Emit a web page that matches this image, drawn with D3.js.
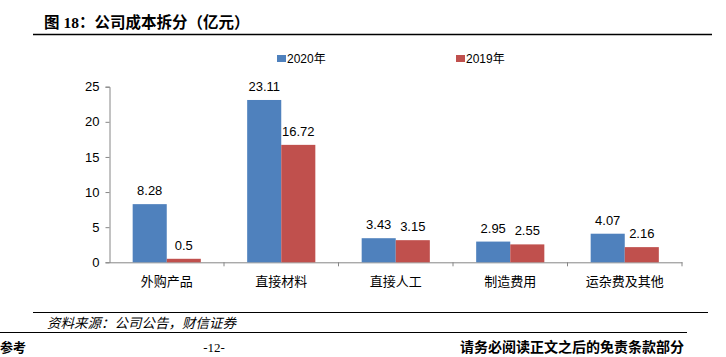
<!DOCTYPE html>
<html><head><meta charset="utf-8">
<script src="https://cdn.jsdelivr.net/npm/d3@7"></script>
<style>
html,body{margin:0;padding:0;background:#fff;}
svg{display:block;}
</style></head>
<body>
<svg id="c" width="726" height="357"></svg>
<script>
const categories = ["外购产品","直接材料","直接人工","制造费用","运杂费及其他"];
const series2020 = [8.28, 23.11, 3.43, 2.95, 4.07];
const series2019 = [0.5, 16.72, 3.15, 2.55, 2.16];
const seriesNames = ["2020年","2019年"];
const yTicks = [0,5,10,15,20,25];
const titleText = "图 18：公司成本拆分（亿元）";
const sourceText = "资料来源：公司公告，财信证券";
const footerLeft = "参考";
const footerMid = "-12-";
const footerRight = "请务必阅读正文之后的免责条款部分";
const colors = ["#4F81BD","#C0504D"];

const svg = d3.select("#c");
const cjk = "'Noto Sans CJK SC', sans-serif";
const latin = "'Liberation Sans', Arial, 'Noto Sans CJK SC', sans-serif";

// Title
svg.append("text").attr("x",44).attr("y",28)
  .attr("font-size",15.5).attr("font-weight","bold").attr("fill","#000")
  .attr("font-family","'Liberation Serif', 'Noto Sans CJK SC', serif")
  .text(titleText);
svg.append("line").attr("x1",33).attr("x2",712).attr("y1",34.5).attr("y2",34.5)
  .attr("stroke","#000").attr("stroke-width",1.5);

// Scales
const x0 = d3.scaleBand().domain(categories).range([109.5,682]).paddingInner(0).paddingOuter(0);
const x1 = d3.scaleBand().domain(seriesNames).range([0,x0.bandwidth()]).paddingInner(0).paddingOuter(0.68);
const y = d3.scaleLinear().domain([0,25]).range([262.3,86.7]);

// Y axis
const yAxis = svg.append("g").attr("transform","translate(109.5,0)")
  .call(d3.axisLeft(y).tickValues(yTicks).tickSize(4).tickPadding(6));
yAxis.select(".domain").attr("stroke","#868686");
yAxis.selectAll(".tick line").attr("stroke","#868686");
yAxis.selectAll(".tick text").attr("font-size",13).attr("font-family",latin).attr("fill","#000");

// X axis
const xAxis = svg.append("g").attr("transform",`translate(0,${y(0)})`)
  .call(d3.axisBottom(x0).tickSize(0).tickPadding(14));
xAxis.select(".domain").attr("stroke","#868686");
xAxis.selectAll(".tick text").attr("font-size",13).attr("font-family",cjk).attr("fill","#000");
svg.append("g").selectAll("line").data(categories).join("line")
  .attr("x1",d=>x0(d)+x0.bandwidth()).attr("x2",d=>x0(d)+x0.bandwidth())
  .attr("y1",y(0)).attr("y2",y(0)+4).attr("stroke","#868686");

// Bars
const data = categories.map((c,i)=>({c, vals:[series2020[i], series2019[i]]}));
const groups = svg.append("g").selectAll("g").data(data).join("g")
  .attr("transform",d=>`translate(${x0(d.c)},0)`);
groups.selectAll("rect").data(d=>d.vals.map((v,j)=>({v,s:seriesNames[j],j}))).join("rect")
  .attr("x",d=>x1(d.s)).attr("width",x1.bandwidth())
  .attr("y",d=>y(d.v)).attr("height",d=>y(0)-y(d.v))
  .attr("fill",d=>colors[d.j]);
groups.selectAll("text").data(d=>d.vals.map((v,j)=>({v,s:seriesNames[j],j}))).join("text")
  .attr("x",d=>x1(d.s)+x1.bandwidth()/2).attr("y",d=>y(d.v)-9)
  .attr("text-anchor","middle").attr("font-size",13).attr("font-family",latin).attr("fill","#000")
  .text(d=>d.v);

// Legend
const legX = [277, 456];
seriesNames.forEach((s,i)=>{
  svg.append("rect").attr("x",legX[i]).attr("y",55).attr("width",9).attr("height",7).attr("fill",colors[i]);
  svg.append("text").attr("x",legX[i]+10).attr("y",63).attr("font-size",12)
    .attr("font-family",latin).attr("fill","#000").text(s);
});

// Footer
svg.append("line").attr("x1",33).attr("x2",708).attr("y1",312.5).attr("y2",312.5)
  .attr("stroke","#000").attr("stroke-width",1.2);
svg.append("text").attr("x",47).attr("y",328).attr("font-size",13.5).attr("font-style","italic")
  .attr("font-family",cjk).attr("fill","#000").text(sourceText);
svg.append("line").attr("x1",0).attr("x2",687).attr("y1",332.5).attr("y2",332.5)
  .attr("stroke","#000").attr("stroke-width",1.2);
svg.append("text").attr("x",0).attr("y",352).attr("font-size",13).attr("font-weight","bold")
  .attr("font-family",cjk).attr("fill","#000").text(footerLeft);
svg.append("text").attr("x",214).attr("y",352).attr("font-size",13).attr("text-anchor","middle")
  .attr("font-family","'Liberation Serif', serif").attr("fill","#000").text(footerMid);
svg.append("text").attr("x",684).attr("y",352).attr("font-size",14).attr("font-weight","bold")
  .attr("text-anchor","end").attr("font-family",cjk).attr("fill","#000").text(footerRight);
</script>
</body></html>
